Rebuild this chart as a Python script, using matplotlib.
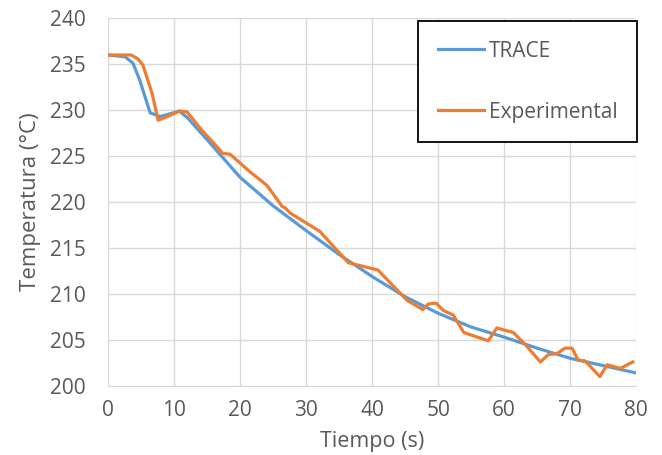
import matplotlib
matplotlib.use('Agg')
import matplotlib.pyplot as plt

# TRACE simulation
t_trace = [0, 2.6, 3.8, 4.8, 6.4, 7.9, 9.9, 10.8, 12, 15, 20, 25, 30, 35, 40, 45, 50, 55, 60, 65, 70, 75, 80]
T_trace = [236, 235.8, 235.1, 233.3, 229.7, 229.3, 229.7, 229.9, 229.2, 226.8, 222.7, 219.6, 216.9, 214.3, 211.9, 209.7, 207.9, 206.4, 205.3, 204.1, 203.0, 202.2, 201.4]

# datos experimentales
t_exp = [0, 3.5, 4.5, 5.3, 6.7, 7.6, 9.0, 10.9, 12.0, 14.0, 17.4, 18.5, 21.5, 24.1, 26.4, 26.8, 27.6, 32.1,
         36.4, 40.9, 45.3, 47.7, 48.5, 49.7, 50.8, 52.3, 53.9, 57.6, 58.9, 61.4, 63.2, 65.5, 66.7, 68.0,
         69.2, 70.3, 71.2, 72.3, 74.5, 75.6, 77.6, 79.5]
T_exp = [236, 236, 235.6, 234.9, 231.8, 228.9, 229.3, 229.9, 229.8, 228.0, 225.3, 225.2, 223.3, 221.8, 219.5, 219.4, 218.8, 216.8,
         213.4, 212.6, 209.3, 208.3, 208.9, 209.0, 208.2, 207.7, 205.8, 204.9, 206.3, 205.8, 204.5, 202.6, 203.4, 203.5,
         204.1, 204.1, 202.8, 202.7, 201.0, 202.3, 201.9, 202.6]

plt.rcParams['font.family'] = ['Open Sans', 'DejaVu Sans']

fig = plt.figure(figsize=(6.62, 4.55), dpi=100)
ax = fig.add_axes([0.163, 0.152, 0.798, 0.808])

ax.plot(t_trace, T_trace, color='#5B9BD5', lw=2.3, label='TRACE')
ax.plot(t_exp, T_exp, color='#ED7D31', lw=2.3, label='Experimental')

ax.set_xlim(0, 80)
ax.set_ylim(200, 240)
ax.set_xticks(range(0, 81, 10))
ax.set_yticks(range(200, 241, 5))
ax.grid(True, color='#d9d9d9', lw=1)
ax.set_axisbelow(True)
for s in ['top', 'right', 'left']:
    ax.spines[s].set_visible(False)
ax.spines['bottom'].set_color('#d9d9d9')
ax.tick_params(length=0, labelsize=15, colors='#595959')
ax.tick_params(axis='y', pad=16)
ax.tick_params(axis='x', pad=10.5)

ax.set_xlabel('Tiempo (s)', fontsize=15.5, color='#595959')
ax.xaxis.set_label_coords(0.5, -0.124)
ax.set_ylabel('Temperatura (°C)', fontsize=16, color='#595959', labelpad=6)

leg = ax.legend(loc='upper right', bbox_to_anchor=(1.002, 0.992), fontsize=15, labelspacing=1.92,
                handlelength=2.2, handletextpad=0.25, borderpad=0.94, borderaxespad=0,
                fancybox=False, framealpha=1, edgecolor='black')
leg.get_frame().set_linewidth(1.3)
for txt in leg.get_texts():
    txt.set_color('#595959')

fig.savefig('out.png', dpi=100)
